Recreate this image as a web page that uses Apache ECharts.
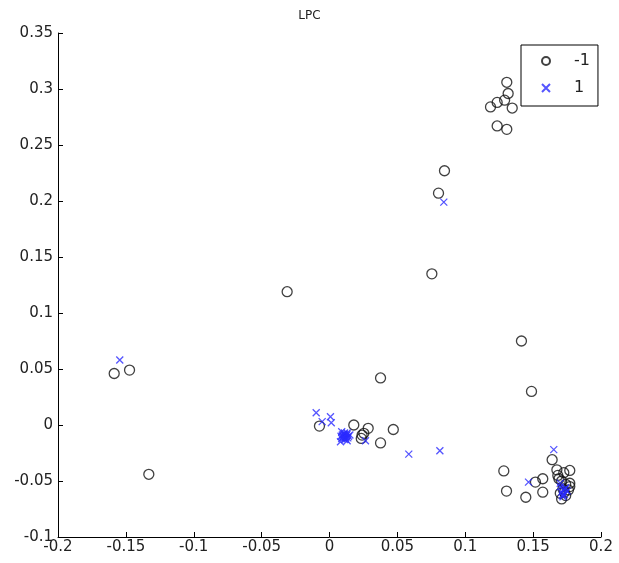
<!DOCTYPE html>
<html>
<head>
<meta charset="utf-8">
<script src="https://cdn.jsdelivr.net/npm/echarts@6/dist/echarts.min.js"></script>
<style>html,body{margin:0;padding:0;background:#fff;}#c{width:619px;height:563px;}</style>
</head>
<body>
<div id="c"></div>
<script>
// Class -1 (circles)
var negX = [0.1306,0.1316,0.1290,0.1235,0.1186,0.1346,0.1235,0.1306,
            0.0847,0.0803,0.0754,-0.0312,-0.1586,-0.1473,-0.1331,0.0376,0.1414,0.1488,
            -0.0074,0.0179,0.0285,0.0240,0.0253,0.0234,0.0376,0.0470,
            0.1640,0.1675,0.1682,0.1726,0.1770,0.1690,0.1284,0.1517,0.1571,0.1304,0.1446,0.1571,
            0.171,0.174,0.177,0.172,0.176,0.170,0.174,0.171,0.177,0.173];
var negY = [0.306,0.296,0.290,0.288,0.284,0.283,0.267,0.264,
            0.227,0.207,0.135,0.119,0.046,0.049,-0.044,0.042,0.075,0.030,
            -0.001,0.000,-0.003,-0.009,-0.0074,-0.012,-0.016,-0.004,
            -0.031,-0.040,-0.045,-0.0426,-0.0406,-0.048,-0.041,-0.051,-0.048,-0.059,-0.0645,-0.060,
            -0.050,-0.053,-0.052,-0.057,-0.058,-0.061,-0.063,-0.066,-0.055,-0.060];
// Class 1 (crosses)
var posX = [0.0842,-0.1545,-0.0098,-0.0054,0.0007,0.0013,0.0081,0.0265,0.0584,0.0813,0.1652,0.1466,
            0.009,0.011,0.013,0.010,0.012,0.014,0.009,0.011,0.015,0.013,
            0.0105,0.0125,0.0115,0.0095,0.0135,0.0110,0.0120,0.0100,0.0130,0.0085,
            0.170,0.172,0.174,0.171,0.173,0.175,0.172,0.170,0.1735,0.1715];
var posY = [0.199,0.058,0.011,0.003,0.0074,0.002,-0.015,-0.014,-0.026,-0.023,-0.022,-0.051,
            -0.006,-0.008,-0.007,-0.010,-0.011,-0.010,-0.012,-0.013,-0.009,-0.014,
            -0.0085,-0.0095,-0.0105,-0.0090,-0.0115,-0.0070,-0.0125,-0.0110,-0.0080,-0.0100,
            -0.055,-0.058,-0.056,-0.060,-0.062,-0.059,-0.064,-0.052,-0.0575,-0.0625];
var seriesNames = ['-1', '1'];
var chartTitle = 'LPC';

function pairs(xs, ys){ return xs.map(function(x,i){ return [x, ys[i]]; }); }

var fontFam = 'DejaVu Sans';
var chart = echarts.init(document.getElementById('c'), null, {renderer:'canvas'});
chart.setOption({
  animation: false,
  backgroundColor: '#fff',
  title: {
    text: chartTitle, left: 'center', top: 5,
    textStyle: {fontFamily: fontFam, fontSize: 12, fontWeight: 'normal', color: '#222'}
  },
  grid: {left: 58, right: 18, top: 33, bottom: 26, containLabel: false},
  xAxis: {
    type: 'value', min: -0.2, max: 0.2, interval: 0.05,
    axisLine: {show: true, onZero: false, lineStyle: {color: '#000', width: 1}},
    axisTick: {show: true, inside: true, length: 5, lineStyle: {color: '#000'}},
    axisLabel: {fontFamily: fontFam, fontSize: 15, color: '#222', margin: 3, showMinLabel: true, showMaxLabel: true},
    splitLine: {show: false}
  },
  yAxis: {
    type: 'value', min: -0.1, max: 0.35, interval: 0.05,
    axisLine: {show: true, onZero: false, lineStyle: {color: '#000', width: 1}},
    axisTick: {show: true, inside: true, length: 5, lineStyle: {color: '#000'}},
    axisLabel: {fontFamily: fontFam, fontSize: 15, color: '#222', margin: 5, showMinLabel: true, showMaxLabel: true},
    splitLine: {show: false}
  },
  legend: {
    orient: 'vertical', left: 521, top: 45,
    borderColor: '#000', borderWidth: 1, backgroundColor: '#fff',
    padding: [8, 8, 10, 20],
    itemWidth: 14, itemHeight: 8, itemGap: 11,
    textStyle: {fontFamily: fontFam, fontSize: 16, color: '#222', padding: [0,0,0,16]},
    data: seriesNames
  },
  series: [
    {
      name: seriesNames[0], type: 'scatter', symbol: 'circle', symbolSize: 10,
      itemStyle: {color: 'rgba(0,0,0,0)', borderColor: '#111', borderWidth: 1.3},
      data: pairs(negX, negY)
    },
    {
      name: seriesNames[1], type: 'scatter', symbol: 'path://M0,0L10,10M10,0L0,10', symbolSize: 7,
      itemStyle: {color: 'rgba(0,0,0,0)', borderColor: '#2a2aff', borderWidth: 1.3},
      data: pairs(posX, posY)
    }
  ]
});
</script>
</body>
</html>
